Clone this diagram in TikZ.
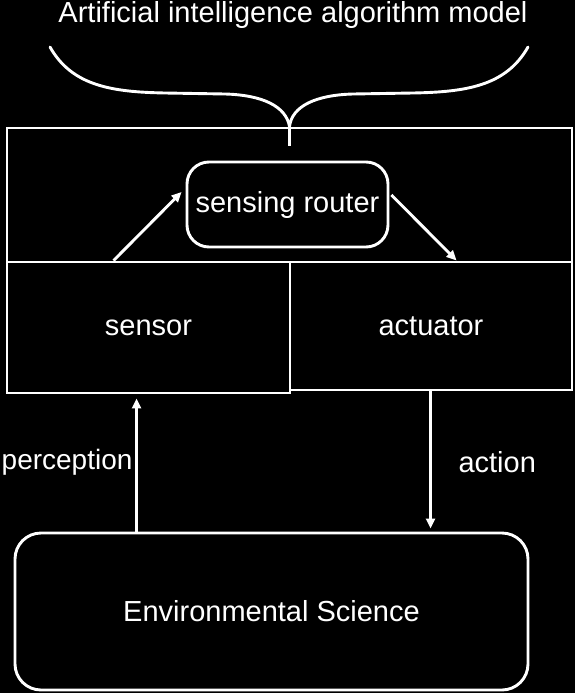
\documentclass[tikz,border=0pt]{standalone}
\usepackage{fontspec}
\setmainfont{Liberation Sans}
\usetikzlibrary{arrows.meta}
\begin{document}
\begin{tikzpicture}[x=1pt,y=-1pt,
  every node/.style={text=white,font=\fontsize{29}{33}\selectfont},
  wline/.style={draw=white,line width=2.9pt},
  box/.style={wline,rectangle,inner sep=0pt},
  rbox/.style={wline,rectangle,rounded corners=22pt,inner sep=0pt},
  arr/.style={draw=white,line width=2.9pt,-{Triangle[length=10pt,width=9pt]}}]
\fill[black] (0,0) rectangle (575,693);
\useasboundingbox (0,0) rectangle (575,693);
% boxes
\node[box,minimum width=565pt,minimum height=134pt] (topbox) at (289.5,195) {};
\node[box,minimum width=283pt,minimum height=131pt] (sensor) at (148.5,327.5) {sensor};
\node[box,minimum width=282pt,minimum height=128pt] (actuator) at (431,326) {actuator};
\node[rbox,minimum width=201pt,minimum height=85pt] (router) at (287.5,204.5) {sensing router};
\node[rbox,rounded corners=26pt,minimum width=513pt,minimum height=157pt] (env) at (271.5,611.5) {Environmental Science};
% title and brace
\node (title) at (293,15) {Artificial intelligence algorithm model};
\coordinate (cusp) at (topbox.north);
\draw[wline,line cap=round,line join=round]
  (50,47) .. controls (72,86) and (112,92) .. (165,93)
  -- (225,94) .. controls (262,95) and (286,106) .. (cusp)
  .. controls (292,106) and (316,95) .. (353,94)
  -- (413,93) .. controls (466,92) and (506,86) .. (528,47);
\draw[wline] (cusp) -- ([yshift=-19pt]cusp);
% arrows
\draw[arr] ([xshift=108pt]sensor.north west) -- ([xshift=-4pt,yshift=12.5pt]router.west);
\draw[arr] ([xshift=2pt,yshift=9.5pt]router.east) -- ([xshift=168pt]actuator.north west);
\draw[arr] ([xshift=123pt]env.north west) -- ([xshift=131pt,yshift=-4pt]sensor.south west);
\draw[arr] ([xshift=142pt]actuator.south west) -- ([xshift=417pt,yshift=3pt]env.north west);
% labels
\node[anchor=west,inner xsep=0pt,font=\fontsize{28}{32}\selectfont] (perc) at (1.5,462) {perception};
\node[anchor=west] (act) at (455,462) {action};
\end{tikzpicture}
\end{document}
